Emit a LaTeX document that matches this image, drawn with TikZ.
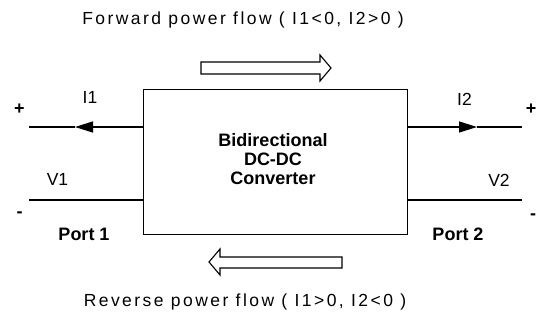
\documentclass[tikz,border=0pt]{standalone}
\usepackage{fontspec}
\setmainfont{Liberation Sans}
\usetikzlibrary{arrows.meta}
\begin{document}
\begin{tikzpicture}[x=1pt,y=-1pt,
  wire/.style={line width=1.4pt},
  tipwire/.style={line width=1.4pt,-{Triangle[length=18pt,width=11pt]}},
  blockarrow/.style={draw,line width=1.1pt,fill=white},
  lbl/.style={inner sep=0pt,font=\fontsize{17.5}{19}\selectfont},
  boldlbl/.style={inner sep=0pt,font=\fontsize{18}{19}\selectfont\bfseries},
  sign/.style={inner sep=0pt,font=\fontsize{18}{20}\selectfont\bfseries},
  caption/.style={inner sep=0pt,font=\fontsize{17.5}{19}\selectfont\addfontfeature{LetterSpace=14}}]
\useasboundingbox (0,0) rectangle (541,320);
% converter box
\node[draw,line width=1pt,minimum width=264pt,minimum height=145pt,inner sep=0pt] (conv) at (275,162.5) {};
\node[boldlbl,align=center] (convtxt) at (273,159) {Bidirectional\\DC-DC\\Converter};
% port wires
\coordinate (l1) at (29,127);
\coordinate (l1tip) at (75,127);
\coordinate (l2) at (29,200);
\coordinate (r1) at (522,127);
\coordinate (r1tip) at (477,127);
\coordinate (r2) at (522,200);
\draw[tipwire] (conv.west |- l1) -- (l1tip);
\draw[wire] (l1tip) -- (l1);
\draw[wire] (conv.west |- l2) -- (l2);
\draw[tipwire] (conv.east |- r1) -- (r1tip);
\draw[wire] (r1tip) -- (r1);
\draw[wire] (conv.east |- r2) -- (r2);
% labels
\node[sign] (pl) at (19.5,109.5) {+};
\node[sign] (ml) at (19.5,215) {-};
\node[sign] (pr) at (531,109) {+};
\node[sign] (mr) at (533,217) {-};
\node[lbl] (i1) at (90,97.5) {I1};
\node[lbl] (v1) at (57.5,179) {V1};
\node[lbl] (i2) at (464.5,99.5) {I2};
\node[lbl] (v2) at (499,180) {V2};
\node[boldlbl] (p1) at (84,234) {Port 1};
\node[boldlbl] (p2) at (458,234) {Port 2};
% power flow arrows
\draw[blockarrow] (201,62) -- (320,62) -- (320,55) -- (331,68) -- (320,81) -- (320,74) -- (201,74) -- cycle;
\draw[blockarrow] (342,257) -- (220,257) -- (220,249) -- (209,262) -- (220,275) -- (220,268) -- (342,268) -- cycle;
\node[caption] (fwd) at (243,20) {Forward power flow ( I1<0, I2>0 )};
\node[caption] (rev) at (245,302) {Reverse power flow ( I1>0, I2<0 )};
\end{tikzpicture}
\end{document}
